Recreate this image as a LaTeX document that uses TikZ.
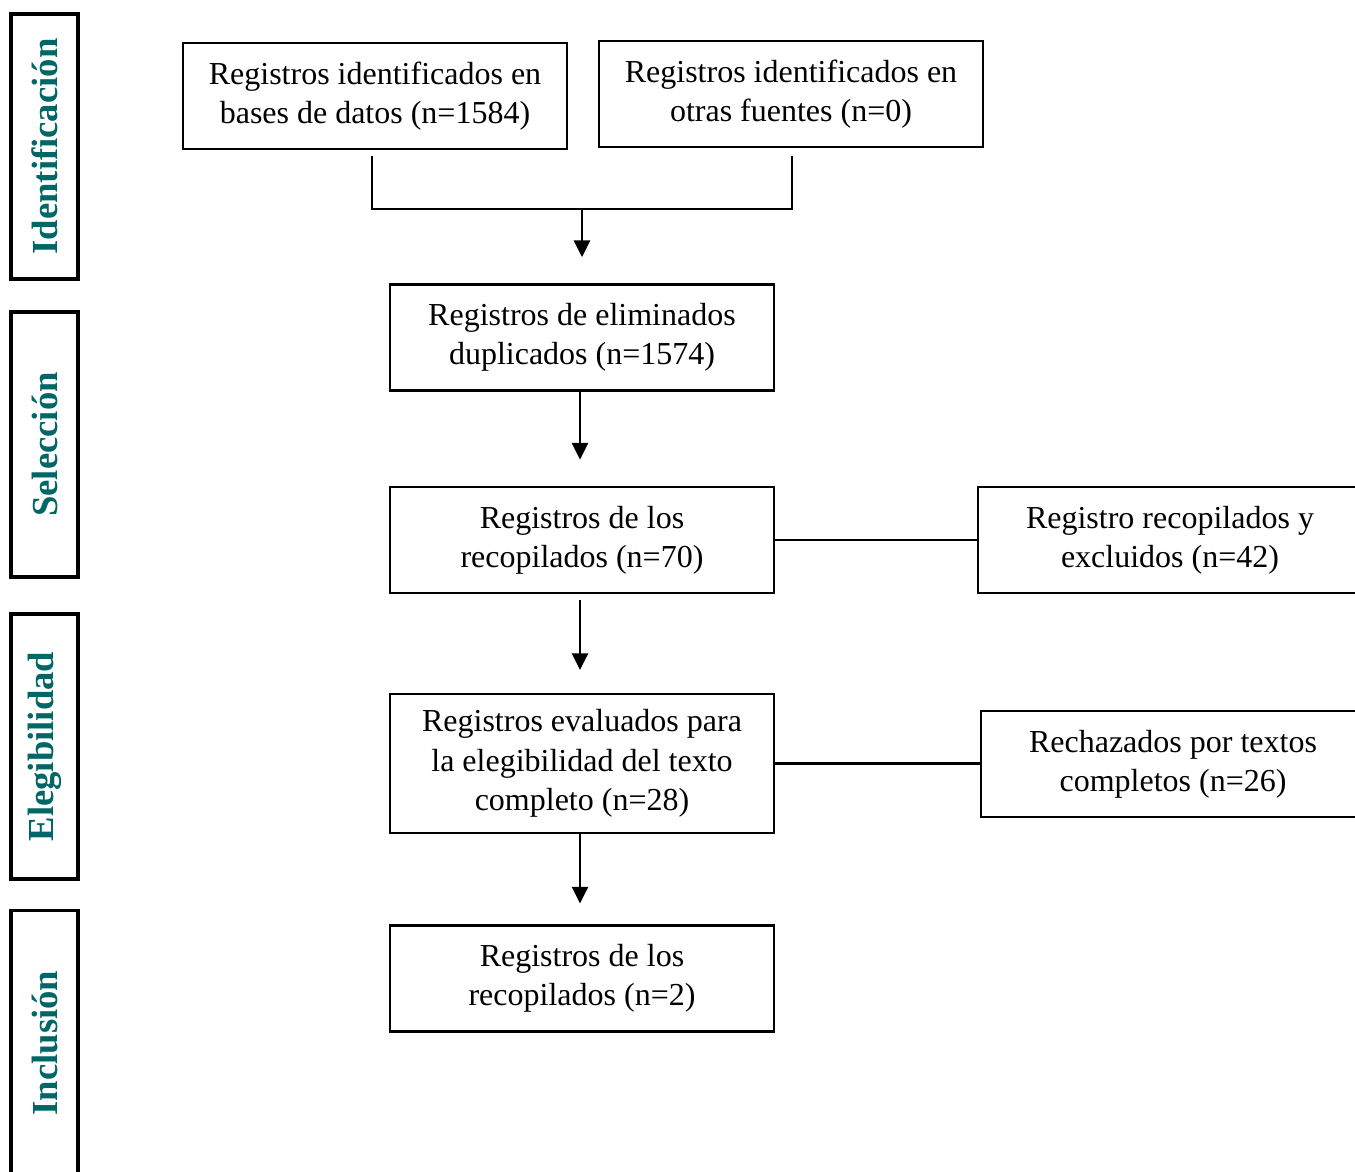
\documentclass[tikz,border=0pt]{standalone}
\usepackage{fontspec}
\setmainfont{Liberation Serif}
\usetikzlibrary{arrows.meta}
\definecolor{labteal}{RGB}{0,102,102}
\begin{document}
\begin{tikzpicture}[x=0.75pt,y=-0.75pt,
  box/.style={draw, line width=2.1pt, minimum width=288pt, minimum height=79.5pt, align=center, inner sep=0pt,
    font=\fontsize{24}{29.5}\selectfont},
  tallbox/.style={box, minimum height=104.25pt},
  phase/.style={draw, line width=2.3pt, rotate=90, minimum width=198.75pt, minimum height=50.25pt, inner sep=0pt,
    text=labteal, font=\bfseries\fontsize{27.5}{30}\selectfont},
  conn/.style={line width=2pt},
  arr/.style={conn, -{Triangle[width=12pt,length=12.5pt]}}
]
\useasboundingbox (0,0) rectangle (1355,1171);
\clip (0,0) rectangle (1355,1171);

% phase labels
\node[phase] (p1) at (44.5,146.5) {Identificación};
\node[phase] (p2) at (44.5,444.5) {Selección};
\node[phase] (p3) at (44.5,746.5) {Elegibilidad};
\node[phase] (p4) at (44.5,1043) {Inclusión};

% boxes
\node[box] (b1) at (375,96) {Registros identificados en\\bases de datos (n=1584)};
\node[box] (b2) at (791,94) {Registros identificados en\\otras fuentes (n=0)};
\node[box] (b3) at (582,337.5) {Registros de eliminados\\duplicados (n=1574)};
\node[box] (b4) at (582,540) {Registros de los\\recopilados (n=70)};
\node[box] (b5) at (1170,540) {Registro recopilados y\\excluidos (n=42)};
\node[tallbox] (b6) at (582,763.5) {Registros evaluados para\\la elegibilidad del texto\\completo (n=28)};
\node[box] (b7) at (1173,764) {Rechazados por textos\\completos (n=26)};
\node[box] (b8) at (582,978.5) {Registros de los\\recopilados (n=2)};

% connectors
\coordinate (j1) at (372,209);
\coordinate (j2) at (792,209);
\coordinate (jm) at (582,209);
\draw[conn] ([yshift=-4.5pt]b1.south -| j1) -- (j1) -- (j2) -- ([yshift=-6pt]b2.south -| j2);
\draw[arr, shorten >=19.5pt] (jm) -- (b3.north);
\draw[arr, shorten >=19.5pt] ([xshift=-1.5pt]b3.south) -- ([xshift=-1.5pt]b4.north);
\draw[arr, shorten <=4.5pt, shorten >=17pt] ([xshift=-1.5pt]b4.south) -- ([xshift=-1.5pt]b6.north);
\draw[arr, shorten >=15.5pt] ([xshift=-1.5pt]b6.south) -- ([xshift=-1.5pt]b8.north);
\draw[conn] (b4.east) -- (b5.west);
\draw[conn] (b6.east) -- (b6.east -| b7.west);
\end{tikzpicture}
\end{document}
